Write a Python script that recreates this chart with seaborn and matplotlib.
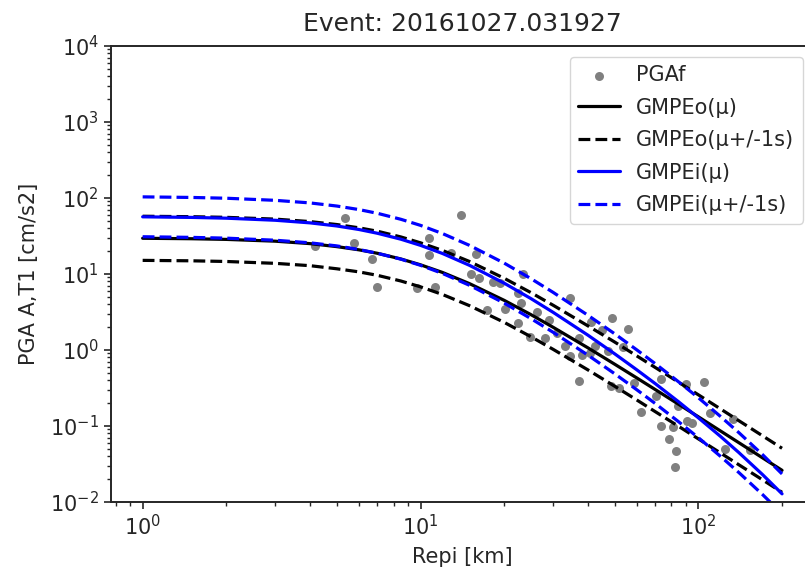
import numpy as np
import pandas as pd
import matplotlib
matplotlib.use("Agg")
import matplotlib.pyplot as plt
import seaborn as sns

# Epicentral distances at which the GMPE curves were read [km]
r_curve = [1, 1.5, 2, 3, 4, 5, 6, 7, 8.5, 10, 12, 15, 20, 25, 30, 40, 50, 60, 70, 85,
           100, 120, 140, 170, 200]
gmpeo_mu = [29.5, 29.08, 28.5, 27.0, 25.08, 22.9, 20.79, 18.7, 15.75, 13.2, 10.47, 7.47, 4.50,
            2.91, 1.99, 1.069, 0.649, 0.4289, 0.301, 0.1922, 0.132, 0.08614, 0.0601, 0.03815, 0.0261]
gmpeo_hi = [57.5, 56.7, 55.6, 52.7, 48.9, 44.7, 40.5, 36.5, 30.7, 25.7, 20.4, 14.6, 8.78,
            5.67, 3.88, 2.08, 1.27, 0.836, 0.587, 0.375, 0.257, 0.168, 0.117, 0.0744, 0.0509]
gmpeo_lo = [15.1, 14.9, 14.6, 13.8, 12.86, 11.7, 10.66, 9.59, 8.08, 6.77, 5.37, 3.83, 2.31,
            1.49, 1.02, 0.548, 0.333, 0.220, 0.154, 0.0986, 0.0676, 0.0442, 0.0308, 0.0196, 0.0134]
gmpei_mu = [56.5, 55.5, 54.2, 50.9, 47.05, 42.8, 38.49, 34.3, 28.66, 23.8, 18.59, 13.0, 7.57,
            4.73, 3.13, 1.569, 0.889, 0.5487, 0.360, 0.2072, 0.128, 0.07312, 0.0445, 0.02301, 0.0128]
gmpei_hi = [103.4, 101.6, 99.2, 93.1, 86.1, 78.3, 70.4, 62.8, 52.4, 43.6, 34.0, 23.8, 13.9,
            8.66, 5.73, 2.87, 1.63, 1.004, 0.659, 0.379, 0.235, 0.1338, 0.0814, 0.0421, 0.0234]
gmpei_lo = [30.9, 30.3, 29.6, 27.8, 25.7, 23.4, 21.0, 18.7, 15.66, 13.0, 10.16, 7.10, 4.14,
            2.58, 1.71, 0.857, 0.486, 0.2998, 0.197, 0.1132, 0.0701, 0.03996, 0.0243, 0.01257, 0.0070]

# Observed PGA values
pga_r = [4.17, 5.35, 5.76, 6.71, 6.95, 9.73, 10.7, 10.7, 11.3, 14.0, 12.9, 15.9, 15.2, 16.3,
         18.2, 19.3, 17.4, 20.1, 23.4, 22.5, 22.9, 22.5, 26.3, 24.8, 28.1, 28.9, 34.6, 31.0,
         33.2, 34.6, 37.3, 38.1, 37.3, 41.2, 42.3, 40.8, 45.0, 47.1, 48.8, 55.6, 48.4, 51.6,
         53.5, 58.5, 62.3, 70.5, 73.5, 73.5, 78.7, 83.2, 82.7, 81.3, 90.8, 90.3, 104.8, 110,
         133, 125, 153, 84.1, 94.6]
pga_val = [23.3, 53.8, 25.7, 15.6, 6.79, 6.47, 29.4, 17.7, 6.79, 59.4, 19.0, 18.1, 9.97, 8.75,
           7.91, 7.52, 3.36, 3.43, 9.97, 5.66, 4.11, 2.29, 3.19, 1.50, 1.43, 2.48, 4.78, 1.66,
           1.13, 0.834, 1.43, 0.86, 0.395, 2.36, 1.13, 0.905, 1.83, 0.98, 2.61, 1.89, 0.336, 0.314,
           1.105, 0.365, 0.152, 0.249, 0.412, 0.100, 0.067, 0.047, 0.0293, 0.098, 0.118, 0.357, 0.383, 0.150,
           0.123, 0.0496, 0.0485, 0.184, 0.109]

title = "Event: 20161027.031927"
xlabel = "Repi [km]"
ylabel = "PGA A,T1 [cm/s2]"

sns.set_style("ticks")
plt.rcParams["font.family"] = ["DejaVu Sans"]

fig = plt.figure(figsize=(8.05, 5.76), dpi=100)
ax = fig.add_axes([0.1375, 0.1285, 0.8737, 0.7917])

obs = pd.DataFrame({"r": pga_r, "pga": pga_val})
sns.scatterplot(data=obs, x="r", y="pga", color="gray", s=42, linewidth=0,
                label="PGAf", ax=ax, zorder=2)

lw = 2.3
sns.lineplot(x=r_curve, y=gmpeo_mu, color="black", lw=lw, label="GMPEo(\u03bc)", ax=ax)
sns.lineplot(x=r_curve, y=gmpeo_hi, color="black", lw=lw, linestyle="--",
             label="GMPEo(\u03bc+/-1s)", ax=ax)
sns.lineplot(x=r_curve, y=gmpeo_lo, color="black", lw=lw, linestyle="--", ax=ax)
sns.lineplot(x=r_curve, y=gmpei_mu, color="blue", lw=lw, label="GMPEi(\u03bc)", ax=ax)
sns.lineplot(x=r_curve, y=gmpei_hi, color="blue", lw=lw, linestyle="--",
             label="GMPEi(\u03bc+/-1s)", ax=ax)
sns.lineplot(x=r_curve, y=gmpei_lo, color="blue", lw=lw, linestyle="--", ax=ax)

ax.set_xscale("log")
ax.set_yscale("log")
ax.set_ylim(1e-2, 1e4)
ax.set_title(title, fontsize=18, pad=11)
ax.set_xlabel(xlabel, fontsize=15, labelpad=6)
ax.set_ylabel(ylabel, fontsize=15, labelpad=8)
ax.tick_params(axis="both", which="major", labelsize=15, length=5, width=1.2)
ax.tick_params(axis="both", which="minor", length=3, width=1.0)
for sp in ax.spines.values():
    sp.set_linewidth(1.4)

ax.legend(loc="upper right", bbox_to_anchor=(0.984, 0.976), borderaxespad=0,
          fontsize=15, framealpha=0.8, labelspacing=0.6)

fig.savefig("out.png", dpi=100)
